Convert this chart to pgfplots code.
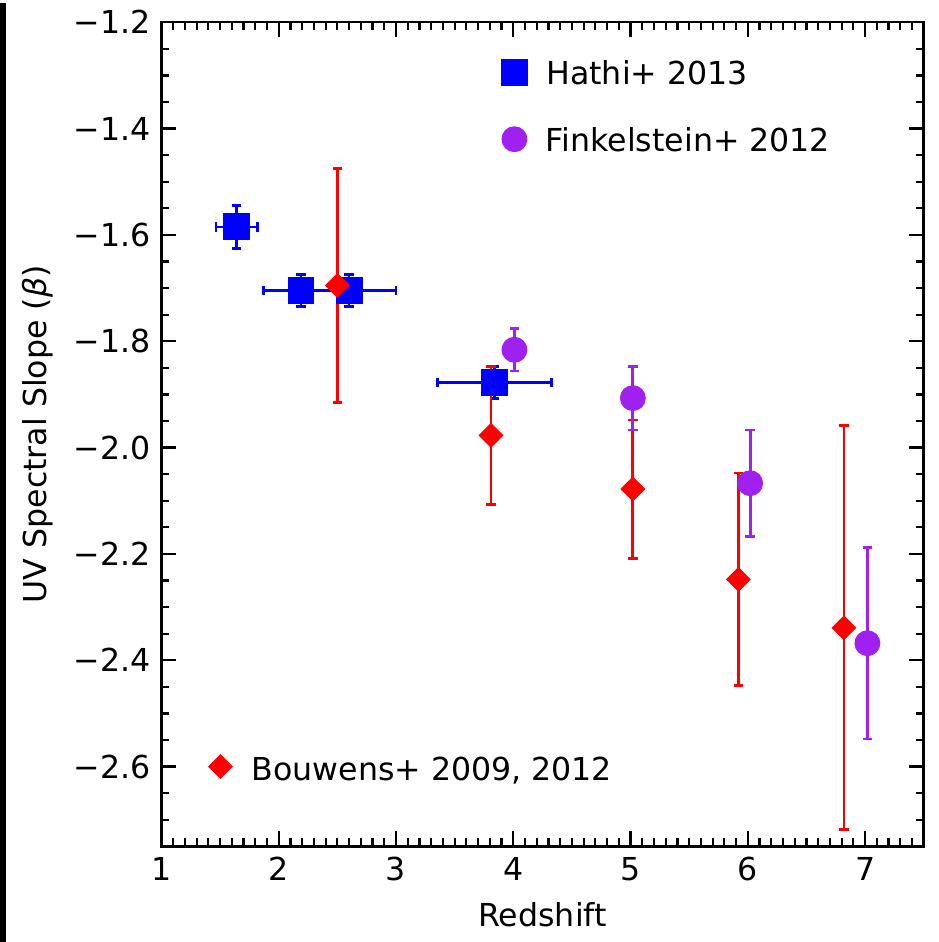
\documentclass[border=0pt]{standalone}
\usepackage{fontspec}
\setmainfont{DejaVu Sans}
\usepackage{pgfplots}
\pgfplotsset{compat=1.18}
\definecolor{idlblue}{RGB}{0,0,255}
\definecolor{idlred}{RGB}{255,0,0}
\definecolor{idlpurple}{RGB}{160,32,240}
\begin{document}
\fontsize{11.5}{13.8}\selectfont
\begin{tikzpicture}
\begin{axis}[
  name=main,
  scale only axis,
  width=9.745cm, height=10.535cm,
  xmin=1, xmax=7.5, ymin=-2.75, ymax=-1.2,
  xtick={1,2,3,4,5,6,7},
  ytick={-2.6,-2.4,-2.2,-2.0,-1.8,-1.6,-1.4,-1.2},
  yticklabels={−2.6,−2.4,−2.2,−2.0,−1.8,−1.6,−1.4,−1.2},
  minor xtick={1.1,1.2,1.3,1.4,1.5,1.6,1.7,1.8,1.9,2.1,2.2,2.3,2.4,2.5,2.6,2.7,2.8,2.9,3.1,3.2,3.3,3.4,3.5,3.6,3.7,3.8,3.9,4.1,4.2,4.3,4.4,4.5,4.6,4.7,4.8,4.9,5.1,5.2,5.3,5.4,5.5,5.6,5.7,5.8,5.9,6.1,6.2,6.3,6.4,6.5,6.6,6.7,6.8,6.9,7.1,7.2,7.3,7.4},
  minor ytick={-2.75,-2.7,-2.65,-2.55,-2.5,-2.45,-2.35,-2.3,-2.25,-2.15,-2.1,-2.05,-1.95,-1.9,-1.85,-1.75,-1.7,-1.65,-1.55,-1.5,-1.45,-1.35,-1.3,-1.25},
  major tick length=5.4pt, minor tick length=2.9pt,
  tick style={black, line width=0.8pt},
  axis line style={black, line width=0.9pt},
  tick align=inside,
  /pgf/number format/assume math mode=true,
  ticklabel style={font=\fontsize{11.5}{13.8}\selectfont, black},
  xlabel={Redshift},
  ylabel={UV Spectral Slope (\textit{β})},
  xlabel style={at={(axis description cs:0.5,-0.0834)}, anchor=center, font=\fontsize{11.5}{13.8}\selectfont},
  ylabel style={at={(axis description cs:-0.162,0.5)}, anchor=center, font=\fontsize{11.5}{13.8}\selectfont},
  clip=false,
  error bars/error bar style={line width=1pt},
  error bars/error mark options={rotate=90, mark size=1.7pt, line width=1pt},
]
% Hathi+ 2013
\addplot[only marks, mark=square*, color=idlblue, mark size=4.7pt,
  error bars/.cd, x dir=both, x explicit, y dir=both, y explicit]
  coordinates {
  (1.641,-1.585) +- (0.175,0.04)
  (2.19,-1.705) +- (0.32,0.03)
  (2.60,-1.705) +- (0.40,0.03)
  (3.84,-1.877) +- (0.485,0.03)
  };
% Bouwens+ 2009, 2012
\addplot[only marks, mark=square*, mark options={rotate=45}, color=idlred, mark size=3pt,
  error bars/.cd, y dir=both, y explicit]
  coordinates {
  (2.50,-1.695) +- (0,0.22)
  (3.81,-1.977) +- (0,0.13)
  (5.02,-2.078) +- (0,0.13)
  (5.92,-2.248) +- (0,0.20)
  (6.82,-2.339) +- (0,0.38)
  };
% Finkelstein+ 2012
\addplot[only marks, mark=*, color=idlpurple, mark size=4.5pt,
  error bars/.cd, y dir=both, y explicit]
  coordinates {
  (4.01,-1.816) +- (0,0.04)
  (5.02,-1.907) +- (0,0.06)
  (6.02,-2.067) +- (0,0.10)
  (7.02,-2.368) +- (0,0.18)
  };
% legend markers
\addplot[only marks, mark=square*, color=idlblue, mark size=4.7pt] coordinates {(4.01,-1.294)};
\addplot[only marks, mark=*, color=idlpurple, mark size=4.5pt] coordinates {(4.01,-1.420)};
\addplot[only marks, mark=square*, mark options={rotate=45}, color=idlred, mark size=3pt] coordinates {(1.503,-2.600)};
\node[anchor=base west, inner sep=0pt] at (axis cs:4.278,-1.3175) {Hathi+ 2013};
\node[anchor=base west, inner sep=0pt] at (axis cs:4.273,-1.443) {Finkelstein+ 2012};
\node[anchor=base west, inner sep=0pt] at (axis cs:1.765,-2.626) {Bouwens+ 2009, 2012};
\end{axis}
% page extent: 942 x 942 px, 1px = 0.012739cm
\path[use as bounding box] ([xshift=-2.0638cm, yshift=-1.2229cm]main.south west) rectangle ++(12cm,12cm);
\fill[black] ([xshift=-2.0638cm, yshift=-1.2229cm]main.south west) rectangle ++(0.0764cm,12cm);
\end{tikzpicture}
\end{document}
